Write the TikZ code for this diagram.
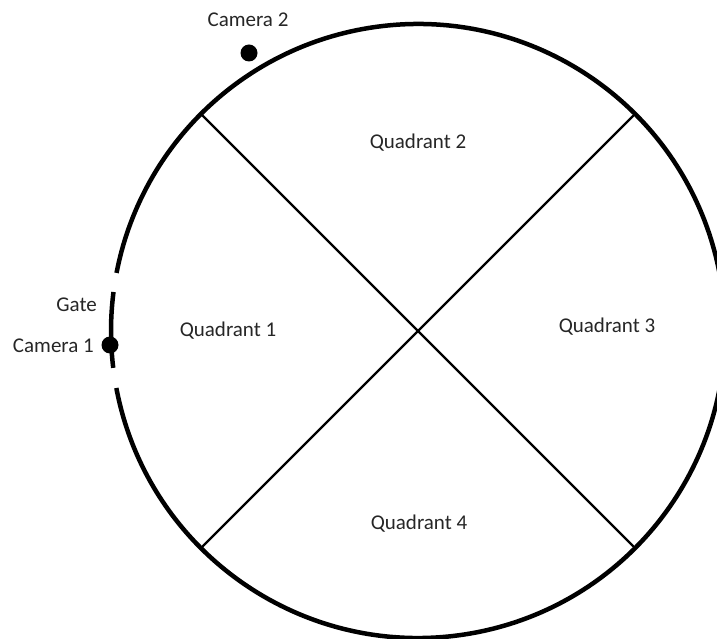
\documentclass[tikz,border=0pt]{standalone}
\usepackage{fontspec}
\setmainfont{Carlito}
\begin{document}
\begin{tikzpicture}[x=1pt,y=1pt,
  rim/.style={line width=4.5pt,black},
  diag/.style={line width=2.4pt,black},
  cam/.style={circle,fill=black,inner sep=0pt,minimum size=17pt},
  lbl/.style={text=black!85,font=\fontsize{21}{25}\selectfont,inner sep=0pt}]
\useasboundingbox (0,0) rectangle (717,638);
\coordinate (C) at (418,307);
% diagonals
\draw[diag] (C) ++(135:306) coordinate (tl) -- ++(-45:612) coordinate (br);
\draw[diag] (C) ++(45:306) coordinate (tr) -- ++(-135:612) coordinate (bl);
% rim with gate
\draw[rim] (C) ++(190.7:307) arc[start angle=190.7,end angle=529.1,radius=307];
\draw[rim] (C) ++(172.7:307) arc[start angle=172.7,end angle=186.9,radius=307];
% cameras
\node[cam] (cam1) at (110,293) {};
\node[cam] (cam2) at (249,585) {};
% labels
\node[lbl] (c2) at (248,618) {Camera 2};
\node[lbl,anchor=east] (gate) at (97,333) {Gate};
\node[lbl,anchor=east] (c1) at (94,292) {Camera 1};
\node[lbl] (q1) at (228,307) {Quadrant 1};
\node[lbl] (q2) at (418,495) {Quadrant 2};
\node[lbl] (q3) at (607,311) {Quadrant 3};
\node[lbl] (q4) at (419,114) {Quadrant 4};
\end{tikzpicture}
\end{document}
